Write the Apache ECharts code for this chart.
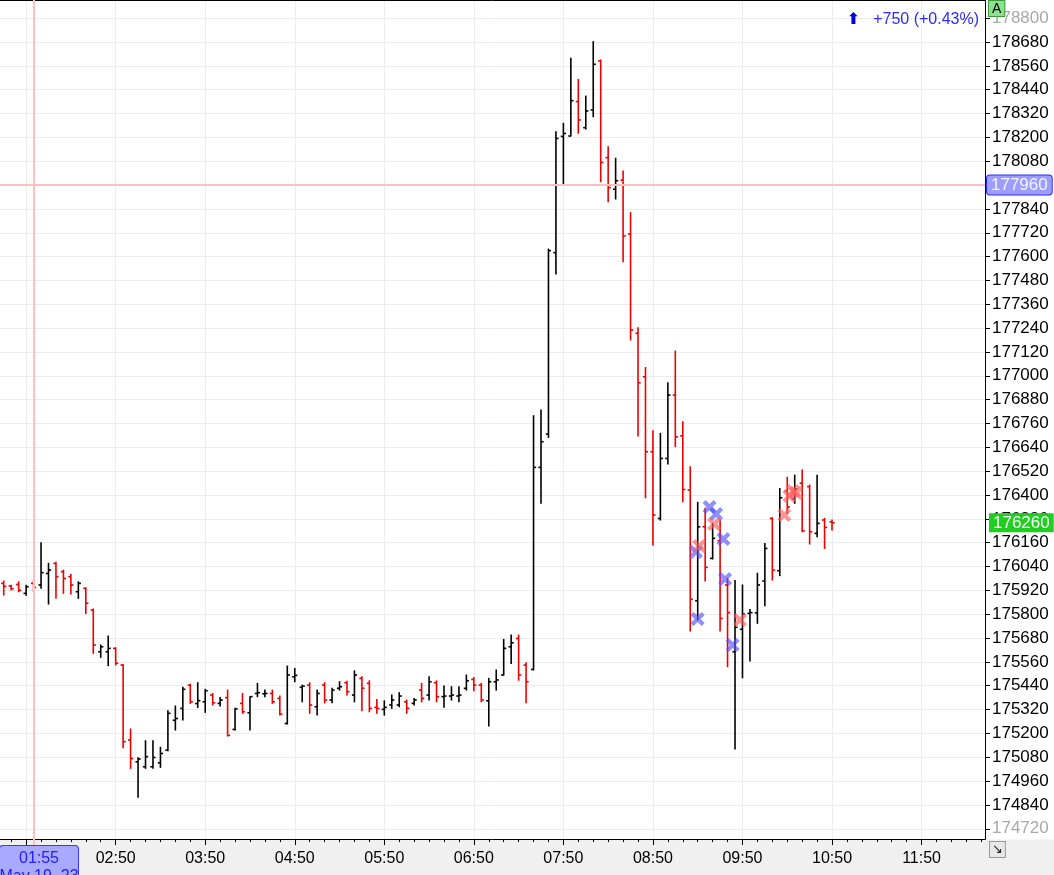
<!DOCTYPE html>
<html><head><meta charset="utf-8">
<script src="https://cdn.jsdelivr.net/npm/echarts@6/dist/echarts.min.js"></script>
<style>html,body{margin:0;padding:0;background:#fff}#c{width:1054px;height:875px}</style>
</head><body><div id="c"></div>
<script>
// 5-minute bars starting 01:35 (May 19)
const opens = [175955,175942,175950,175905,175955,175947,176005,176056,176014,175989,
175913,175930,175821,175611,175611,175628,175544,175167,175057,175032,
175032,175052,175116,175266,175326,175443,175350,175359,175393,175351,
175380,175220,175351,175304,175401,175399,175401,175376,175250,175485,
175432,175443,175334,175443,175368,175427,175455,175393,175477,175452,
175331,175321,175343,175343,175359,175351,175418,175393,175455,175385,
175388,175388,175427,175472,175443,175364,175460,175494,175636,175678,
175544,175522,176539,176707,177620,178205,178207,178380,178249,178338,
178585,178098,177939,177985,177714,177214,176995,176618,176282,176584,
176903,176698,176425,175868,176240,176081,176170,175947,175611,175724,
175804,175807,175967,176282,176019,176420,176380,176459,176442,176207,
176274,176265];
const highs = [175967,175946,175963,175946,175969,176160,176056,176061,176022,176000,
175963,175933,175826,175645,175690,175631,175547,175222,175078,175163,
175163,175130,175314,175338,175432,175448,175455,175422,175401,175381,
175418,175326,175401,175385,175452,175418,175418,175388,175539,175527,
175443,175455,175418,175455,175427,175460,175463,175515,175485,175465,
175371,175364,175393,175405,175368,175376,175452,175485,175465,175438,
175435,175435,175494,175482,175452,175477,175519,175673,175695,175695,
175556,176799,176828,177638,178229,178271,178598,178492,178408,178682,
178590,178153,178095,178031,177821,177242,177042,176724,176710,176965,
177125,176769,176542,176363,176333,176257,176274,175980,175969,175947,
175824,176006,176156,176286,176433,176489,176500,176526,176450,176500,
176282,176274];
const lows = [175896,175922,175913,175896,175913,175930,175851,175880,175905,175902,
175880,175804,175603,175583,175541,175544,175128,175024,174878,175024,
175024,175029,175113,175217,175267,175351,175331,175306,175343,175338,
175187,175217,175301,175217,175385,175385,175351,175292,175247,175460,
175359,175301,175292,175354,175354,175418,175393,175359,175314,175309,
175301,175292,175326,175334,175301,175343,175359,175368,175359,175331,
175368,175359,175418,175415,175359,175237,175418,175494,175552,175468,
175354,175519,176358,176690,177512,177965,178207,178221,178242,178304,
177977,177876,177890,177574,177180,176697,176386,176148,176274,176556,
176643,176366,175715,175771,175967,176078,175715,175536,175121,175480,
175564,175754,175843,175972,175994,176307,176358,176215,176153,176190,
176131,176224];
const closes = [175940,175928,175920,175938,175935,176009,176022,175989,175980,175947,
175955,175855,175645,175636,175628,175553,175158,175074,175071,175083,
175079,175099,175301,175275,175422,175359,175365,175415,175354,175368,
175190,175323,175309,175385,175405,175401,175359,175297,175494,175492,
175438,175343,175401,175368,175418,175435,175410,175494,175427,175326,
175326,175331,175368,175388,175326,175368,175376,175460,175385,175388,
175393,175393,175465,175443,175368,175460,175469,175628,175656,175494,
175460,176539,176668,177630,178195,178220,178385,178288,178333,178568,
178074,177947,177982,177704,177230,176965,176618,176299,176584,176903,
176693,176428,175875,176240,176036,176182,175779,175808,175734,175801,
175808,175947,176131,176022,176386,176340,176430,176219,176215,176257,
176237,176260];
// trade markers: [bar position, price]
const blueMarks = [[92.77,176113],[92.99,175776],[94.59,176339],[95.47,176304],[96.45,176178],[96.67,175977],[97.69,175645]];
const redMarks = [[93.2,176143],[95.2,176254],[98.67,175771],[104.6,176299],[105.3,176395],[105.8,176420],[106.2,176410]];
const crossTime = '01:55';
const crossDate = 'May 19, 23';
const crossPrice = 177960;
const changeText = '+750 (+0.43%)';
const yMin = 174600, yMax = 178891.6, yStep = 120;

// time categories 01:35 .. 12:30
const times = [];
for (let m = 95; m <= 750; m += 5) {
  times.push(String(Math.floor(m / 60)).padStart(2, '0') + ':' + String(m % 60).padStart(2, '0'));
}
const lastPrice = closes[closes.length - 1];
const ohlc = opens.map((o, i) => [times[i], o, highs[i], lows[i], closes[i]]);

const FONT = '"Liberation Sans", Arial, sans-serif';
const isHour = v => v.slice(3) === '50';
const isTen = v => v.slice(4) === '0';
const XPATH = 'path://M0,3 L3,0 L7,4 L11,0 L14,3 L10,7 L14,11 L11,14 L7,10 L3,14 L0,11 L4,7 Z';

function renderItem(params, api) {
  const x = api.value(0);
  const o = api.value(1), h = api.value(2), l = api.value(3), c = api.value(4);
  const pH = api.coord([x, h]), pL = api.coord([x, l]);
  const pO = api.coord([x, o]), pC = api.coord([x, c]);
  const color = c >= o ? '#000000' : '#ee0000';
  const t = 2.6, w = 1.6;
  const st = { stroke: color, lineWidth: w };
  return {
    type: 'group',
    children: [
      { type: 'line', shape: { x1: pH[0], y1: pH[1] - 0.5, x2: pL[0], y2: pL[1] + 0.5 }, style: st },
      { type: 'line', shape: { x1: pO[0] - t, y1: pO[1], x2: pO[0], y2: pO[1] }, style: st },
      { type: 'line', shape: { x1: pC[0], y1: pC[1], x2: pC[0] + t, y2: pC[1] }, style: st }
    ]
  };
}

const chart = echarts.init(document.getElementById('c'), null, { renderer: 'canvas' });
chart.setOption({
  animation: false,
  backgroundColor: '#ffffff',
  textStyle: { fontFamily: FONT },
  title: {
    text: '{a|⬆}   ' + changeText,
    right: 70, top: 7,
    textStyle: {
      fontSize: 16, fontWeight: 'normal', color: '#2b2bff', fontFamily: FONT,
      rich: { a: { fontSize: 16, color: '#0000dd', fontFamily: '"DejaVu Sans"', fontWeight: 'bold' } }
    }
  },
  grid: { left: 0, right: 69, top: 0, bottom: 22.4, containLabel: false },
  xAxis: [
    { type: 'category', data: times, boundaryGap: true, z: 0,
      axisLine: { show: false, onZero: false }, axisTick: { show: false }, axisLabel: { show: false },
      splitLine: { show: true, alignWithLabel: true, interval: (i, v) => isHour(v), lineStyle: { color: '#ececec', width: 1 } } },
    { type: 'category', data: times, boundaryGap: true, position: 'bottom', offset: -13.5, z: 3,
      axisLine: { show: true, onZero: false, lineStyle: { color: '#000', width: 1 } },
      axisTick: { show: true, alignWithLabel: true, interval: (i, v) => isHour(v), length: 6, lineStyle: { color: '#000' } },
      axisLabel: { show: true, interval: (i, v) => isHour(v) && i > 3, color: '#000', fontSize: 16, margin: 11, fontFamily: FONT },
      splitLine: { show: false },
      axisPointer: {
        show: true, status: 'show', value: times.indexOf(crossTime), type: 'line', snap: false, triggerTooltip: false,
        lineStyle: { color: '#ffbfbf', width: 2, type: 'solid' },
        label: {
          show: true,
          formatter: p => '{a|' + p.value + '}\n{a|' + crossDate + '}',
          backgroundColor: '#a9a9ff', borderColor: '#3a3aff', borderWidth: 1, color: '#2020ff',
          fontSize: 16, lineHeight: 18, padding: [3, 1, 2, 1], margin: 7, fontFamily: FONT,
          rich: { a: { width: 76, align: 'center', fontSize: 16, lineHeight: 18, color: '#2020ff', fontFamily: FONT } }
        }
      } },
    { type: 'category', data: times, boundaryGap: true, position: 'bottom', offset: -13.5, z: 3,
      axisLine: { show: false, onZero: false },
      axisTick: { show: true, alignWithLabel: true, interval: (i, v) => isTen(v), length: 3, lineStyle: { color: '#000' } },
      axisLabel: { show: false }, splitLine: { show: false } },
    { type: 'value', min: -0.5, max: times.length - 0.5, show: false, axisLine: { onZero: false } },
    { type: 'category', data: times, position: 'top', offset: 0, z: 3,
      axisLine: { show: true, onZero: false, lineStyle: { color: '#000', width: 1 } },
      axisTick: { show: false }, axisLabel: { show: false }, splitLine: { show: false } }
  ],
  yAxis: [{
    type: 'value', position: 'right', min: yMin, max: yMax, interval: yStep, z: 0,
    axisLine: { show: true, onZero: false, lineStyle: { color: '#000', width: 1 } },
    axisTick: { show: true, length: 5, lineStyle: { color: '#000' } },
    axisLabel: {
      show: true, showMinLabel: false, showMaxLabel: false, margin: 7, fontSize: 17, fontFamily: FONT,
      color: v => (Number(v) === 178800 || Number(v) === 174720) ? '#a8a8a8' : '#000',
      formatter: v => (Number(v) % yStep === 0 ? String(v) : '')
    },
    splitLine: { show: true, showMinLine: false, showMaxLine: false, lineStyle: { color: '#ececec', width: 1 } },
    axisPointer: {
      show: true, status: 'show', value: crossPrice, type: 'line', snap: false, triggerTooltip: false,
      lineStyle: { color: '#ffbfbf', width: 2, type: 'solid' },
      label: {
        show: true, formatter: p => String(Math.round(p.value)),
        backgroundColor: '#9d9dff', borderColor: '#2b2bff', borderWidth: 1, color: '#f4f4ff',
        fontSize: 17, padding: [1, 4, 1, 4], margin: 2, fontFamily: FONT
      }
    }
  }],
  series: [
    { type: 'custom', name: 'OHLC', xAxisIndex: 0, yAxisIndex: 0, data: ohlc,
      encode: { x: 0, y: [1, 2, 3, 4] }, renderItem: renderItem, z: 3, silent: true,
      markLine: {
        silent: true, symbol: 'none', animation: false,
        lineStyle: { color: 'rgba(0,0,0,0)', width: 0 },
        label: { show: true, position: 'end', distance: 4, formatter: '{c}', color: '#ffffff',
          backgroundColor: '#1fcf1f', padding: [1, 4, 1, 4], fontSize: 17, fontFamily: FONT },
        data: [{ yAxis: lastPrice }]
      } },
    { type: 'scatter', name: 'buy', xAxisIndex: 3, yAxisIndex: 0, data: blueMarks, symbol: XPATH, symbolSize: 14,
      itemStyle: { color: 'rgba(80,80,255,0.8)' }, z: 4, silent: true },
    { type: 'scatter', name: 'sell', xAxisIndex: 3, yAxisIndex: 0, data: redMarks, symbol: XPATH, symbolSize: 14,
      itemStyle: { color: 'rgba(255,90,90,0.8)' }, z: 4, silent: true }
  ],
  graphic: [
    { type: 'rect', left: 0, top: 839.5, shape: { width: 1054, height: 40 }, style: { fill: '#f0f0f0' }, z: 1, silent: true },
    { type: 'text', left: 988, top: 0, z: 10, silent: true,
      style: { text: 'A', fill: '#000', font: '14px "Liberation Sans"', backgroundColor: '#8de08d', borderColor: '#3c9a3c', borderWidth: 1, padding: [1, 3, 0, 3] } },
    { type: 'text', left: 989, top: 841, z: 10, silent: true,
      style: { text: '↘', fill: '#222', font: '13px "DejaVu Sans"', backgroundColor: '#e8e8e8', borderColor: '#999', borderWidth: 1, padding: [1, 2, 1, 2] } }
  ]
});
</script>
</body></html>
